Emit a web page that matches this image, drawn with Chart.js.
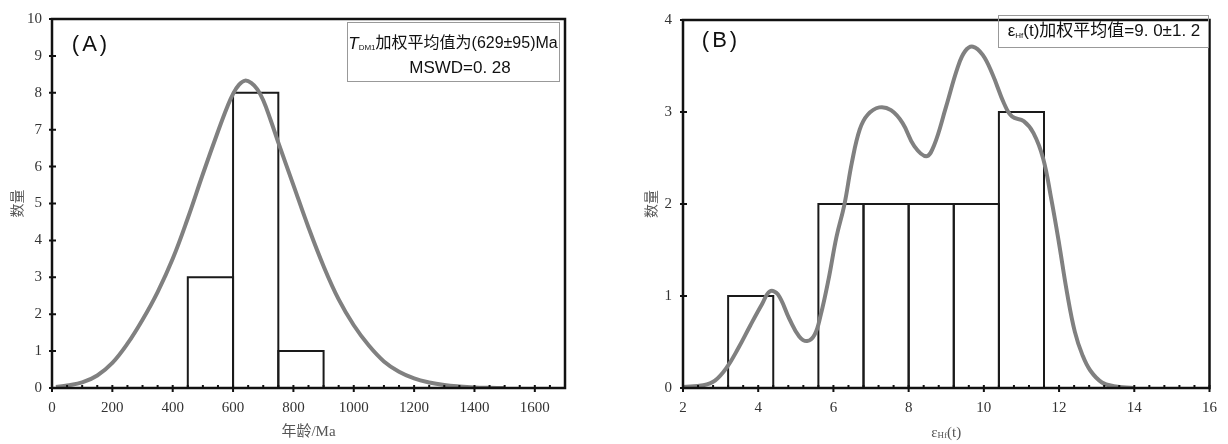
<!DOCTYPE html>
<html>
<head>
<meta charset="utf-8">
<script src="https://cdn.jsdelivr.net/npm/chart.js@4"></script>
<style>
  body { margin: 0; background: #fff; }
  .box { position: absolute; top: 0; width: 614px; height: 444px; }
</style>
</head>
<body>
<div class="box" style="left:0"><canvas id="chartA"></canvas></div>
<div class="box" style="left:614px"><canvas id="chartB"></canvas></div>
<script>
// (A) TDM1 ages, Ma
var binEdgesA = [450, 600, 750, 900];
var countsA = [3, 8, 1];
var curveXA = [13, 50, 100, 150, 200, 250, 300, 350, 400, 450, 500, 550, 580, 600, 620, 640, 660, 680, 700, 725, 750, 800, 850, 900, 950, 1000, 1050, 1100, 1150, 1200, 1250, 1300, 1350, 1400, 1450, 1500];
var curveYA = [0.03, 0.07, 0.15, 0.34, 0.68, 1.2, 1.85, 2.6, 3.5, 4.6, 5.8, 6.95, 7.6, 7.97, 8.22, 8.33, 8.27, 8.1, 7.8, 7.25, 6.65, 5.5, 4.35, 3.3, 2.4, 1.7, 1.15, 0.72, 0.44, 0.26, 0.15, 0.08, 0.04, 0.015, 0.005, 0];
var xTicksA = [0, 200, 400, 600, 800, 1000, 1200, 1400, 1600];
var yTicksA = [0, 1, 2, 3, 4, 5, 6, 7, 8, 9, 10];

// (B) eHf(t)
var binEdgesB = [3.2, 4.4, 5.6, 6.8, 8.0, 9.2, 10.4, 11.6];
var countsB = [1, 0, 2, 2, 2, 2, 3];
var curveXB = [2.0, 2.54, 2.85, 3.16, 3.48, 3.79, 4.1, 4.31, 4.52, 4.83, 5.09, 5.3, 5.5, 5.66, 5.87, 6.08, 6.29, 6.49, 6.7, 6.91, 7.22, 7.53, 7.84, 8.15, 8.47, 8.67, 8.99, 9.3, 9.5, 9.71, 9.97, 10.23, 10.54, 10.75, 11.06, 11.32, 11.58, 11.79, 12.0, 12.21, 12.42, 12.62, 12.83, 13.14, 13.46, 13.98];
var curveYB = [0.01, 0.03, 0.08, 0.22, 0.44, 0.68, 0.91, 1.05, 1.02, 0.75, 0.56, 0.51, 0.58, 0.79, 1.18, 1.64, 1.99, 2.45, 2.81, 2.97, 3.05, 3.02, 2.88, 2.63, 2.52, 2.63, 3.05, 3.48, 3.66, 3.71, 3.62, 3.41, 3.09, 2.95, 2.9, 2.77, 2.49, 2.06, 1.57, 1.04, 0.61, 0.36, 0.19, 0.06, 0.02, 0];
var xTicksB = [2, 4, 6, 8, 10, 12, 14, 16];
var yTicksB = [0, 1, 2, 3, 4];

var serif = '"Liberation Serif", "Noto Sans CJK SC", serif';
var sans = '"Liberation Sans", "Noto Sans CJK SC", sans-serif';

function barOutline(edges, counts) {
  var sets = [];
  for (var i = 0; i < counts.length; i++) {
    if (!counts[i]) continue;
    var l = edges[i], r = edges[i + 1], c = counts[i];
    sets.push({
      data: [{x: l, y: 0}, {x: l, y: c}, {x: r, y: c}, {x: r, y: 0}],
      borderColor: '#1a1a1a', borderWidth: 2, pointRadius: 0, tension: 0, fill: false
    });
  }
  return sets;
}

function curve(xs, ys) {
  return {
    data: xs.map(function (x, i) { return {x: x, y: ys[i]}; }),
    borderColor: '#808080', borderWidth: 4, pointRadius: 0,
    tension: 0.4, fill: false
  };
}

function drawParts(ctx, parts, cx, cy) {
  var w = 0;
  parts.forEach(function (p) { ctx.font = p.font; w += ctx.measureText(p.text).width; });
  var x = cx - w / 2;
  ctx.textAlign = 'left';
  ctx.textBaseline = 'middle';
  parts.forEach(function (p) {
    ctx.font = p.font;
    ctx.fillText(p.text, x, cy + (p.dy || 0));
    x += ctx.measureText(p.text).width;
  });
}

// frame, crossing tick marks and the text notes
var extras = {
  id: 'extras',
  afterDatasetsDraw: function (chart, args, o) {
    var ctx = chart.ctx, a = chart.chartArea, xs = chart.scales.x, ys = chart.scales.y;
    ctx.save();
    ctx.strokeStyle = '#111';
    ctx.lineWidth = 2;
    ctx.beginPath();
    var n = Math.round((xs.max - xs.min) / o.xMinor);
    for (var i = 0; i <= n; i++) {
      var px = xs.getPixelForValue(xs.min + i * o.xMinor);
      ctx.moveTo(px, a.bottom - 3); ctx.lineTo(px, a.bottom + 1);
    }
    o.xMajor.forEach(function (v) {
      var px = xs.getPixelForValue(v);
      ctx.moveTo(px, a.bottom - 3); ctx.lineTo(px, a.bottom + 4);
    });
    o.yMajor.forEach(function (v) {
      var py = ys.getPixelForValue(v);
      ctx.moveTo(a.left - 3, py); ctx.lineTo(a.left + 4, py);
    });
    ctx.stroke();
    ctx.lineWidth = 2.5;
    ctx.strokeRect(a.left, a.top, a.width, a.height);

    ctx.strokeStyle = '#999';
    ctx.lineWidth = 1;
    ctx.strokeRect(o.box[0] + 0.5, o.box[1] + 0.5, o.box[2], o.box[3]);
    ctx.fillStyle = '#111';
    o.lines.forEach(function (l) { drawParts(ctx, l.parts, l.x, l.y); });

    ctx.font = '22px ' + sans;
    ctx.letterSpacing = '3px';
    ctx.textAlign = 'center';
    ctx.textBaseline = 'middle';
    ctx.fillText(o.label[0], o.label[1], o.label[2]);
    ctx.letterSpacing = '0px';

    if (o.xTitle) {
      ctx.fillStyle = '#555';
      drawParts(ctx, o.xTitle, (a.left + a.right) / 2, 433);
    }
    ctx.restore();
  }
};

function makeChart(id, cfg) {
  return new Chart(document.getElementById(id), {
    type: 'line',
    data: {datasets: [curve(cfg.cx, cfg.cy)].concat(barOutline(cfg.edges, cfg.counts))},
    options: {
      responsive: true, maintainAspectRatio: false, devicePixelRatio: 1,
      animation: false, events: [],
      layout: {padding: {top: cfg.top, right: cfg.right, left: 0, bottom: 0}},
      plugins: {legend: {display: false}, tooltip: {enabled: false}, extras: cfg.extras},
      scales: {
        x: {
          type: 'linear', min: cfg.xMin, max: cfg.xMax,
          grid: {display: false, drawTicks: false}, border: {display: false},
          afterBuildTicks: function (s) { s.ticks = cfg.xTicks.map(function (v) { return {value: v}; }); },
          afterFit: function (s) { s.height = 56; },
          ticks: {font: {family: serif, size: 15}, color: '#333', padding: 11, maxRotation: 0, autoSkip: false,
                  callback: function (v) { return String(v); }},
          title: cfg.xTitleText ? {display: true, text: cfg.xTitleText, color: '#555', font: {family: serif, size: 15}, padding: {top: 0, bottom: 3}} : {display: false}
        },
        y: {
          min: 0, max: cfg.yMax,
          grid: {display: false, drawTicks: false}, border: {display: false},
          afterBuildTicks: function (s) { s.ticks = cfg.yTicks.map(function (v) { return {value: v}; }); },
          afterFit: function (s) { s.width = cfg.yWidth; },
          ticks: {font: {family: serif, size: 15}, color: '#333', padding: cfg.yPad,
                  callback: function (v) { return String(v); }},
          title: {display: true, text: '数量', color: '#555', font: {family: sans, size: 14}, padding: {top: cfg.yTitlePad, bottom: 0}}
        }
      }
    },
    plugins: [extras]
  });
}

makeChart('chartA', {
  cx: curveXA, cy: curveYA, edges: binEdgesA, counts: countsA,
  xMin: 0, xMax: 1700, yMax: 10, xTicks: xTicksA, yTicks: yTicksA,
  top: 13, right: 49, yWidth: 52, yPad: 10, yTitlePad: 10,
  xTitleText: '年龄/Ma',
  extras: {
    xMinor: 50, xMajor: xTicksA, yMajor: yTicksA,
    box: [347, 22, 212, 59],
    label: ['(A)', 91, 45],
    lines: [
      {x: 453, y: 44, parts: [
        {text: 'T', font: 'italic 17px ' + sans},
        {text: 'DM1', font: '8px ' + sans, dy: 4},
        {text: '加权平均值为', font: '16px ' + serif},
        {text: '(629±95)Ma', font: '16px ' + sans}
      ]},
      {x: 460, y: 68, parts: [{text: 'MSWD=0. 28', font: '17px ' + sans}]}
    ]
  }
});

makeChart('chartB', {
  cx: curveXB, cy: curveYB, edges: binEdgesB, counts: countsB,
  xMin: 2, xMax: 16, yMax: 4, xTicks: xTicksB, yTicks: yTicksB,
  top: 12, right: 17, yWidth: 69, yPad: 11, yTitlePad: 30,
  xTitleText: null,
  extras: {
    xMinor: 0.4, xMajor: xTicksB, yMajor: yTicksB,
    box: [384, 15, 210, 32],
    label: ['(B)', 107, 41],
    xTitle: [
      {text: 'ε', font: '15px ' + serif},
      {text: 'Hf', font: '9px ' + serif, dy: 3},
      {text: '(t)', font: '15px ' + serif}
    ],
    lines: [
      {x: 490, y: 31.5, parts: [
        {text: 'ε', font: '17px ' + sans},
        {text: 'Hf', font: '8px ' + sans, dy: 4},
        {text: '(t)', font: '17px ' + sans},
        {text: '加权平均值', font: '17px ' + serif},
        {text: '=9. 0±1. 2', font: '17px ' + sans}
      ]}
    ]
  }
});
</script>
</body>
</html>
